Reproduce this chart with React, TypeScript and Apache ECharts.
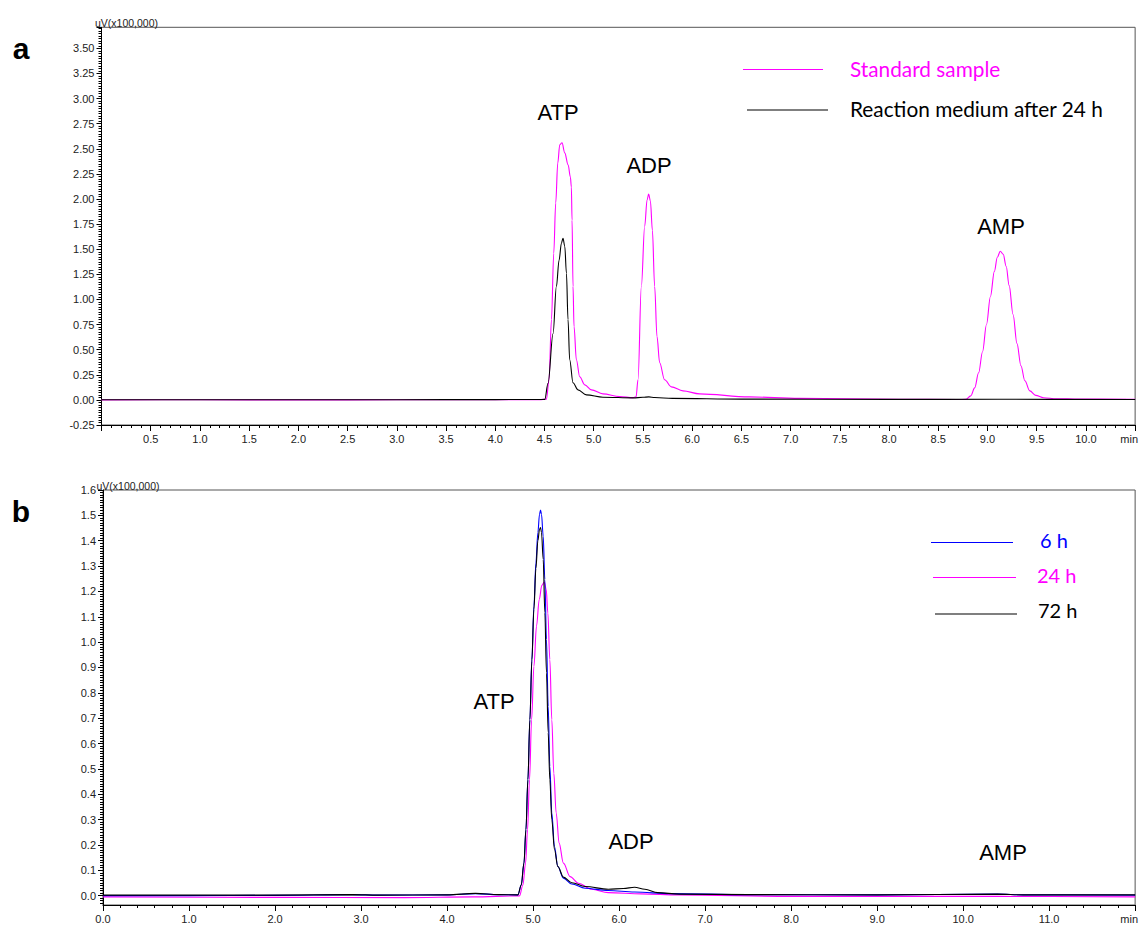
import React, { useEffect, useRef } from 'react';
import * as echarts from 'echarts';

// Panel a — retention time (min) vs detector signal (uV x100,000)
const standardSample: [number, number][] = [
  [0, 0.0], [1.0, 0.001], [2.0, 0.0], [3.0, 0.001], [4.0, 0.002], [4.45, 0.003],
  [4.52, 0.007], [4.546, 0.2], [4.571, 0.8], [4.594, 1.46], [4.614, 1.96], [4.635, 2.36],
  [4.655, 2.54], [4.678, 2.56], [4.706, 2.46], [4.74, 2.34], [4.763, 2.22], [4.773, 2.12],
  [4.78, 1.79], [4.79, 1.13], [4.8, 0.73], [4.824, 0.4], [4.858, 0.23], [4.909, 0.15],
  [4.977, 0.1], [5.094, 0.06], [5.264, 0.033], [5.4, 0.023], [5.43, 0.03],
  [5.45, 0.2], [5.484, 1.13], [5.518, 1.73], [5.542, 1.99], [5.558, 2.05], [5.576, 1.98],
  [5.596, 1.69], [5.619, 1.13], [5.643, 0.63], [5.67, 0.37], [5.72, 0.2], [5.789, 0.13],
  [5.907, 0.09], [6.076, 0.06], [6.58, 0.03], [7.09, 0.015], [8.1, 0.007], [8.7, 0.004],
  [8.78, 0.005], [8.83, 0.04], [8.87, 0.12], [8.91, 0.27], [8.95, 0.48], [8.99, 0.75],
  [9.03, 1.03], [9.07, 1.28], [9.1, 1.42], [9.13, 1.48], [9.16, 1.45], [9.19, 1.33],
  [9.22, 1.14], [9.26, 0.85], [9.3, 0.56], [9.34, 0.34], [9.38, 0.19], [9.43, 0.09],
  [9.49, 0.045], [9.57, 0.022], [9.7, 0.012], [9.93, 0.008], [10.5, 0.005],
];

const reactionMedium24h: [number, number][] = [
  [0, 0.002], [2.0, 0.002], [3.0, 0.002], [4.0, 0.003], [4.45, 0.004], [4.503, 0.005],
  [4.536, 0.166], [4.587, 0.66], [4.621, 1.13], [4.648, 1.39], [4.672, 1.56], [4.688, 1.61],
  [4.706, 1.53], [4.723, 1.26], [4.739, 0.8], [4.756, 0.4], [4.79, 0.17], [4.84, 0.1],
  [4.926, 0.05], [5.094, 0.027], [5.4, 0.02], [5.5, 0.026], [5.56, 0.03], [5.62, 0.024],
  [5.8, 0.015], [6.5, 0.008], [8.0, 0.005], [9.1, 0.006], [10.5, 0.004],
];

// Panel b — reaction medium sampled at 6 h, 24 h and 72 h
const medium6h: [number, number][] = [
  [0, 0.0], [1.0, 0.0], [2.0, 0.001], [2.9, 0.004], [3.2, 0.002], [4.0, 0.003], [4.33, 0.008],
  [4.6, 0.004], [4.824, 0.003], [4.863, 0.042], [4.894, 0.128], [4.917, 0.26], [4.94, 0.457],
  [4.963, 0.694], [4.986, 0.931], [5.01, 1.142], [5.033, 1.313], [5.056, 1.432], [5.075, 1.504],
  [5.087, 1.521], [5.098, 1.504], [5.118, 1.418], [5.137, 1.247], [5.156, 1.01], [5.176, 0.747],
  [5.195, 0.51], [5.218, 0.326], [5.249, 0.194], [5.288, 0.115], [5.353, 0.069], [5.45, 0.046],
  [5.605, 0.029], [5.875, 0.02], [6.18, 0.014], [6.6, 0.008], [7.5, 0.004], [9.0, 0.003],
  [10.4, 0.006], [10.7, 0.003], [12.0, 0.002],
];

const medium24h: [number, number][] = [
  [0, -0.005], [2.0, -0.007], [3.5, -0.008], [4.3, -0.005], [4.843, -0.001], [4.882, 0.042],
  [4.913, 0.128], [4.936, 0.26], [4.959, 0.457], [4.983, 0.694], [5.01, 0.905], [5.04, 1.063],
  [5.072, 1.168], [5.102, 1.224], [5.13, 1.237], [5.153, 1.208], [5.172, 1.115], [5.195, 0.931],
  [5.218, 0.694], [5.241, 0.483], [5.269, 0.326], [5.303, 0.207], [5.353, 0.128], [5.431, 0.075],
  [5.527, 0.049], [5.681, 0.025], [5.875, 0.012], [6.26, 0.007], [6.69, 0.003],
  [8.0, -0.003], [10.4, -0.003], [12.0, -0.005],
];

const medium72h: [number, number][] = [
  [0, 0.002], [1.0, 0.002], [2.0, 0.002], [2.9, 0.004], [3.2, 0.002], [4.0, 0.003],
  [4.33, 0.009], [4.6, 0.004], [4.824, 0.003], [4.863, 0.042], [4.894, 0.128], [4.917, 0.26],
  [4.94, 0.457], [4.963, 0.694], [4.986, 0.925], [5.01, 1.13], [5.033, 1.29], [5.056, 1.4],
  [5.075, 1.445], [5.087, 1.452], [5.098, 1.432], [5.118, 1.326], [5.137, 1.116], [5.156, 0.879],
  [5.176, 0.642], [5.195, 0.457], [5.218, 0.299], [5.249, 0.181], [5.288, 0.115], [5.353, 0.073],
  [5.45, 0.051], [5.605, 0.036], [5.875, 0.025], [6.05, 0.028], [6.18, 0.033], [6.3, 0.025],
  [6.45, 0.012], [6.7, 0.006], [7.5, 0.004], [9.0, 0.003], [10.4, 0.006], [10.7, 0.003],
  [12.0, 0.003],
];

// Labelled intensity ticks of panel b
const panelBYTicks = [0, 0.1, 0.2, 0.3, 0.4, 0.5, 0.6, 0.7, 0.8, 0.9, 1.0, 1.1, 1.2, 1.3, 1.4, 1.5, 1.6];

const MAGENTA = '#ff00ff';
const BLUE = '#0000ff';
const BLACK = '#000000';
const TEXT = '#222222';
const SANS = '"Liberation Sans", Arial, sans-serif';
const LEGEND_FONT = 'Lato, "Noto Sans", sans-serif';

const A_X_MAX = 10.5;
const A_Y_MIN = -0.25;
const A_Y_MAX = 3.71;
const B_X_MAX = 12;
const B_Y_MIN = -0.037;
const B_Y_MAX = 1.6;

const minorB: number[] = [];
for (let i = -3; i <= 160; i++) minorB.push(i / 100);

const lineSeries = (name: string, data: [number, number][], color: string, axis: number) => ({
  name,
  type: 'line',
  data,
  xAxisIndex: axis,
  yAxisIndex: axis,
  showSymbol: false,
  symbol: 'none',
  smooth: 0.35,
  smoothMonotone: 'x',
  lineStyle: { color, width: 1.1 },
  itemStyle: { color },
  z: 3,
});

const xAxisBase = (max: number) => ({
  type: 'value',
  min: 0,
  max,
  axisLine: { show: true, onZero: false, lineStyle: { color: BLACK, width: 1 } },
  axisTick: { show: true, length: 6, lineStyle: { color: BLACK } },
  minorTick: { show: true, splitNumber: 5, length: 3, lineStyle: { color: BLACK } },
  splitLine: { show: false },
  minorSplitLine: { show: false },
});

const minLabel = (max: number) => (v: number) =>
  Math.abs(v - max) < 1e-9 ? '{u|min}' : v.toFixed(1);

const labelStyle = {
  fontFamily: SANS,
  fontSize: 11,
  color: TEXT,
};

export default function App() {
  const ref = useRef<HTMLDivElement>(null);

  useEffect(() => {
    if (!ref.current) return;
    const chart = echarts.init(ref.current, undefined, { renderer: 'svg' });

    const option = {
      animation: false,
      backgroundColor: '#ffffff',
      grid: [
        { left: 101.5, top: 27.3, right: 5, bottom: 500, show: true, borderColor: '#555', borderWidth: 1, backgroundColor: 'transparent' },
        { left: 103, top: 490, right: 3.5, bottom: 20, show: true, borderColor: '#555', borderWidth: 1, backgroundColor: 'transparent' },
      ],
      xAxis: [
        {
          ...xAxisBase(A_X_MAX),
          gridIndex: 0,
          interval: 0.5,
          axisLabel: {
            ...labelStyle,
            margin: 8,
            showMinLabel: false,
            formatter: minLabel(A_X_MAX),
            rich: { u: { ...labelStyle, padding: [0, 12, 0, 0] } },
          },
        },
        {
          ...xAxisBase(B_X_MAX),
          gridIndex: 1,
          interval: 1,
          axisLabel: {
            ...labelStyle,
            margin: 8,
            formatter: minLabel(B_X_MAX),
            rich: { u: { ...labelStyle, padding: [0, 12, 0, 0] } },
          },
        },
      ],
      yAxis: [
        {
          type: 'value',
          gridIndex: 0,
          min: A_Y_MIN,
          max: A_Y_MAX,
          interval: 0.25,
          axisLine: { show: true, onZero: false, lineStyle: { color: BLACK } },
          axisTick: { show: true, length: 5, lineStyle: { color: BLACK } },
          minorTick: { show: true, splitNumber: 10, length: 3, lineStyle: { color: BLACK } },
          splitLine: { show: false },
          minorSplitLine: { show: false },
          axisLabel: { ...labelStyle, margin: 7, showMaxLabel: false, formatter: (v: number) => v.toFixed(2) },
        },
        {
          type: 'value',
          gridIndex: 1,
          min: B_Y_MIN,
          max: B_Y_MAX,
          axisLine: { show: true, onZero: false, lineStyle: { color: BLACK } },
          axisTick: { show: true, length: 5, customValues: panelBYTicks, lineStyle: { color: BLACK } },
          splitLine: { show: false },
          axisLabel: { ...labelStyle, margin: 7, customValues: panelBYTicks, formatter: (v: number) => v.toFixed(1) },
        },
        {
          type: 'value',
          gridIndex: 1,
          position: 'left',
          min: B_Y_MIN,
          max: B_Y_MAX,
          axisLine: { show: false },
          axisTick: { show: true, length: 3, customValues: minorB, lineStyle: { color: BLACK } },
          axisLabel: { show: false },
          splitLine: { show: false },
        },
      ],
      series: [
        lineSeries('Standard sample', standardSample, MAGENTA, 0),
        lineSeries('Reaction medium after 24 h', reactionMedium24h, BLACK, 0),
        lineSeries('24 h', medium24h, MAGENTA, 1),
        lineSeries('6 h', medium6h, BLUE, 1),
        lineSeries('72 h', medium72h, BLACK, 1),
      ],
      graphic: [
        // panel letters
        { type: 'text', x: 21, y: 48, style: { text: 'a', font: `bold 30px ${SANS}`, fill: BLACK, align: 'center', verticalAlign: 'middle' } },
        { type: 'text', x: 21, y: 511, style: { text: 'b', font: `bold 30px ${SANS}`, fill: BLACK, align: 'center', verticalAlign: 'middle' } },
        // axis units
        { type: 'text', x: 95, y: 22.5, style: { text: 'uV(x100,000)', font: `10.5px ${SANS}`, fill: TEXT, align: 'left', verticalAlign: 'middle' } },
        { type: 'text', x: 96.5, y: 485.5, style: { text: 'uV(x100,000)', font: `10.5px ${SANS}`, fill: TEXT, align: 'left', verticalAlign: 'middle' } },
        // peak names, panel a
        { type: 'text', x: 558, y: 112, style: { text: 'ATP', font: `22px ${SANS}`, fill: BLACK, align: 'center', verticalAlign: 'middle' } },
        { type: 'text', x: 649, y: 165, style: { text: 'ADP', font: `22px ${SANS}`, fill: BLACK, align: 'center', verticalAlign: 'middle' } },
        { type: 'text', x: 1001, y: 226, style: { text: 'AMP', font: `22px ${SANS}`, fill: BLACK, align: 'center', verticalAlign: 'middle' } },
        // peak names, panel b
        { type: 'text', x: 494, y: 701, style: { text: 'ATP', font: `22px ${SANS}`, fill: BLACK, align: 'center', verticalAlign: 'middle' } },
        { type: 'text', x: 631, y: 841, style: { text: 'ADP', font: `22px ${SANS}`, fill: BLACK, align: 'center', verticalAlign: 'middle' } },
        { type: 'text', x: 1003, y: 852, style: { text: 'AMP', font: `22px ${SANS}`, fill: BLACK, align: 'center', verticalAlign: 'middle' } },
        // legend, panel a
        { type: 'line', shape: { x1: 743, y1: 69.5, x2: 823, y2: 69.5 }, style: { stroke: MAGENTA, lineWidth: 1.2 } },
        { type: 'text', x: 850, y: 68, style: { text: 'Standard sample', font: `20.8px ${LEGEND_FONT}`, fill: MAGENTA, align: 'left', verticalAlign: 'middle' } },
        { type: 'line', shape: { x1: 747, y1: 110, x2: 828, y2: 110 }, style: { stroke: BLACK, lineWidth: 1.2 } },
        { type: 'text', x: 850, y: 108, style: { text: 'Reaction medium after 24 h', font: `20.8px ${LEGEND_FONT}`, fill: BLACK, align: 'left', verticalAlign: 'middle' } },
        // legend, panel b
        { type: 'line', shape: { x1: 931, y1: 542.5, x2: 1013, y2: 542.5 }, style: { stroke: BLUE, lineWidth: 1.2 } },
        { type: 'text', x: 1040, y: 540, style: { text: '6 h', font: `20px ${LEGEND_FONT}`, fill: BLUE, align: 'left', verticalAlign: 'middle' } },
        { type: 'line', shape: { x1: 933, y1: 577.5, x2: 1016, y2: 577.5 }, style: { stroke: MAGENTA, lineWidth: 1.2 } },
        { type: 'text', x: 1037, y: 575, style: { text: '24 h', font: `20px ${LEGEND_FONT}`, fill: MAGENTA, align: 'left', verticalAlign: 'middle' } },
        { type: 'line', shape: { x1: 935, y1: 614, x2: 1017, y2: 614 }, style: { stroke: BLACK, lineWidth: 1.2 } },
        { type: 'text', x: 1038, y: 610, style: { text: '72 h', font: `20px ${LEGEND_FONT}`, fill: BLACK, align: 'left', verticalAlign: 'middle' } },
      ],
    };

    chart.setOption(option as any);
    return () => chart.dispose();
  }, []);

  return (
    <div
      ref={ref}
      style={{ position: 'fixed', left: 0, top: 0, width: '1141px', height: '925px', background: '#fff' }}
    />
  );
}
